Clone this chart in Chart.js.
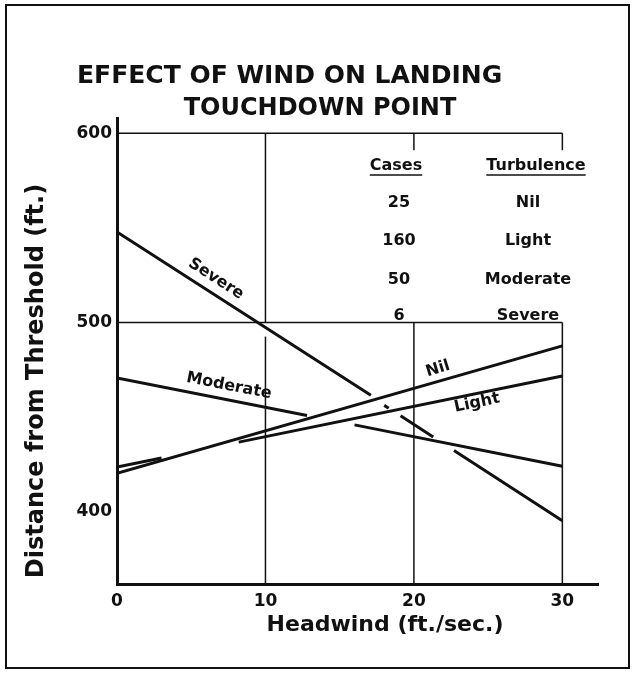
<!DOCTYPE html>
<html>
<head>
<meta charset="utf-8">
<title>Effect of wind on landing touchdown point</title>
<script src="https://cdn.jsdelivr.net/npm/chart.js"></script>
<style>
  html, body { margin: 0; padding: 0; background: #fff; }
</style>
</head>
<body>
<canvas id="myChart" width="634" height="676"></canvas>
<script>
// headwind (ft/sec) against distance from threshold (ft), one pair of arrays per curve
// a null is where the pen lifts as one curve crosses another
var nilX = [0, 30];
var nilY = [420.4, 487.7];
var lightX = [0, 3.0, 5.6, 8.2, 30];
var lightY = [423.8, 428.5, null, 436.9, 471.8];
var moderateX = [0, 12.8, 14.4, 16.0, 30];
var moderateY = [470.8, 451.0, null, 446.0, 424.2];
var severeX = [0, 17.1, 17.5, 18.0, 18.3, 18.7, 19.1, 21.3, 22.0, 22.7, 30];
var severeY = [547.8, 461.7, null, 456.3, 454.8, null, 450.8, 439.6, null, 432.5, 395.4];

// the little table in the top right
var turbulence = ['Nil', 'Light', 'Moderate', 'Severe'];
var cases = [25, 160, 50, 6];

var xTicks = [0, 10, 20, 30];
var yTicks = [400, 500, 600];

var ink = '#111';
var face = '"DejaVu Sans", Verdana, sans-serif';

function points(xs, ys) {
    return xs.map(function(x, i) { return { x: x, y: ys[i] }; });
}

function curve(name, xs, ys) {
    return {
        label: name,
        data: points(xs, ys),
        borderColor: ink,
        borderWidth: 3,
        pointRadius: 0,
        spanGaps: false,
        tension: 0
    };
}

function seg(ctx, x1, y1, x2, y2) {
    ctx.beginPath();
    ctx.moveTo(x1, y1);
    ctx.lineTo(x2, y2);
    ctx.stroke();
}

function label(ctx, text, x, y, deg) {
    ctx.save();
    ctx.translate(x, y);
    ctx.rotate(deg * Math.PI / 180);
    ctx.fillText(text, 0, 0);
    ctx.restore();
}

// grid, frame and all the free text of the figure
var paper = {
    id: 'paper',
    beforeDatasetsDraw: function(chart) {
        var ctx = chart.ctx, sx = chart.scales.x, sy = chart.scales.y;
        ctx.save();
        ctx.strokeStyle = ink;
        ctx.lineWidth = 1.5;
        [600, 500].forEach(function(v) {
            seg(ctx, sx.getPixelForValue(0), sy.getPixelForValue(v), sx.getPixelForValue(30), sy.getPixelForValue(v));
        });
        // verticals stop where the table sits
        var runs = [[10, 600, 500], [10, 492.6, sy.min], [20, 600, 591], [20, 500, sy.min], [30, 600, 591], [30, 500, sy.min]];
        runs.forEach(function(r) {
            var px = sx.getPixelForValue(r[0]);
            seg(ctx, px, sy.getPixelForValue(r[1]), px, sy.getPixelForValue(r[2]));
        });
        ctx.restore();
    },
    afterDraw: function(chart) {
        var ctx = chart.ctx;
        ctx.save();
        ctx.fillStyle = ink;
        ctx.strokeStyle = ink;

        ctx.lineWidth = 2;
        ctx.strokeRect(6, 5, 623, 663);

        ctx.textBaseline = 'middle';
        ctx.font = 'bold 25px ' + face;
        ctx.textAlign = 'left';
        ctx.fillText('EFFECT OF WIND ON LANDING', 77, 76);
        ctx.textAlign = 'center';
        ctx.font = 'bold 24px ' + face;
        ctx.fillText('TOUCHDOWN POINT', 320, 109);

        ctx.font = 'bold 22px ' + face;
        ctx.fillText('Headwind (ft./sec.)', 385, 625);
        ctx.font = 'bold 24px ' + face;
        label(ctx, 'Distance from Threshold (ft.)', 37, 381, -90);

        // table
        ctx.font = 'bold 16px ' + face;
        var heads = [['Cases', 396, 166], ['Turbulence', 536, 166]];
        ctx.lineWidth = 1.5;
        heads.forEach(function(h) {
            ctx.fillText(h[0], h[1], h[2]);
            var w = ctx.measureText(h[0]).width;
            seg(ctx, h[1] - w / 2, h[2] + 9, h[1] + w / 2, h[2] + 9);
        });
        var rowsY = [203, 241, 280, 316];
        cases.forEach(function(c, i) {
            ctx.fillText(String(c), 399, rowsY[i]);
            ctx.fillText(turbulence[i], 528, rowsY[i]);
        });

        // curve names
        ctx.font = 'bold 16px ' + face;
        label(ctx, 'Severe', 216, 279, 33);
        label(ctx, 'Moderate', 229, 386, 11);
        label(ctx, 'Nil', 438, 369, -17);
        label(ctx, 'Light', 477, 403, -12);
        ctx.restore();
    }
};

var ctx = document.getElementById('myChart').getContext('2d');
new Chart(ctx, {
    type: 'line',
    data: {
        datasets: [
            curve('Nil', nilX, nilY),
            curve('Light', lightX, lightY),
            curve('Moderate', moderateX, moderateY),
            curve('Severe', severeX, severeY)
        ]
    },
    options: {
        responsive: false,
        animation: false,
        layout: { padding: { left: 0, right: 36, top: 118, bottom: 0 } },
        plugins: { legend: { display: false }, tooltip: { enabled: false } },
        scales: {
            x: {
                type: 'linear',
                min: 0,
                max: 32.4,
                afterBuildTicks: function(s) { s.ticks = xTicks.map(function(v) { return { value: v }; }); },
                afterFit: function(s) { s.height = 92; },
                grid: { display: false, drawTicks: false },
                border: { display: true, color: ink, width: 3 },
                ticks: { color: ink, padding: 7, maxRotation: 0, font: { family: face, size: 17, weight: 'bold' } }
            },
            y: {
                min: 362,
                max: 608,
                afterBuildTicks: function(s) { s.ticks = yTicks.map(function(v) { return { value: v }; }); },
                afterFit: function(s) { s.width = 117; },
                grid: { display: false, drawTicks: false },
                border: { display: true, color: ink, width: 3 },
                ticks: { color: ink, padding: 5, font: { family: face, size: 17, weight: 'bold' } }
            }
        }
    },
    plugins: [paper]
});
</script>
</body>
</html>
